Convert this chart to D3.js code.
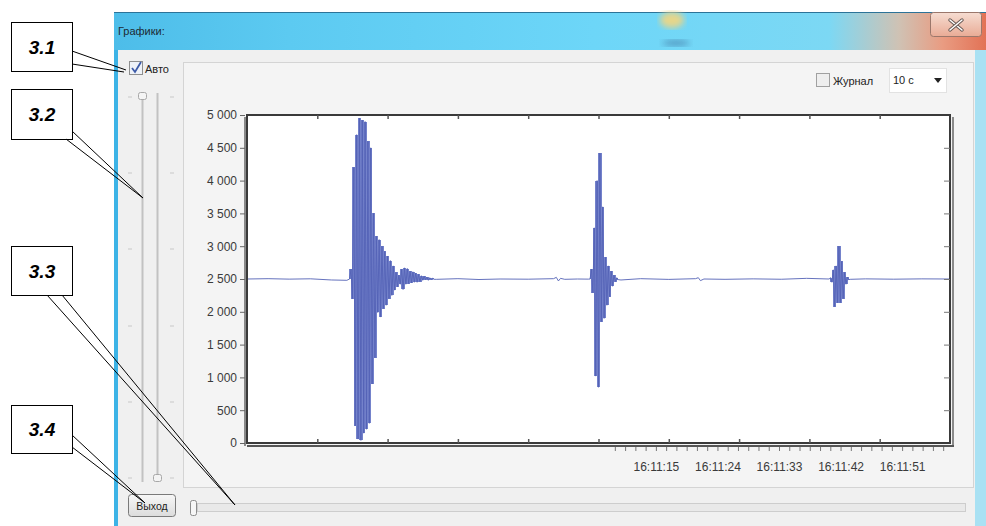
<!DOCTYPE html>
<html>
<head>
<meta charset="utf-8">
<script src="https://cdn.jsdelivr.net/npm/d3@7"></script>
<style>
  body { margin: 0; background: #fff; }
  svg { display: block; }
</style>
</head>
<body>
<div id="chart"></div>
<script>
// --- data ---
const yTicks = [0, 500, 1000, 1500, 2000, 2500, 3000, 3500, 4000, 4500, 5000];
const yTickLabels = ["0", "500", "1 000", "1 500", "2 000", "2 500", "3 000", "3 500", "4 000", "4 500", "5 000"];
const xGridTicks = [10, 20, 30, 40, 50, 60, 70, 80, 90];
const timeLabels = ["16:11:15", "16:11:24", "16:11:33", "16:11:42", "16:11:51"];

// quiet part of the trace (x in plot units 0..100, value in ADC counts)
const quietT = [0, 3, 6, 9, 12, 14.2, 27.0, 30, 33, 36, 40, 43.6, 44.0, 44.3, 44.6, 45.2, 47, 48.6,
  53.2, 56, 60, 63.8, 64.2, 64.5, 65, 68, 72, 76, 79.6, 82.8, 85.8, 88, 92, 96, 100];
const quietV = [2500, 2505, 2498, 2503, 2485, 2480, 2495, 2505, 2492, 2500, 2497, 2505, 2525, 2470, 2510, 2495, 2500, 2498,
  2485, 2505, 2494, 2505, 2520, 2475, 2500, 2495, 2502, 2496, 2510, 2500, 2495, 2502, 2497, 2502, 2500];

// the three bursts, sampled every 0.2 units
const sampleStep = 0.2;
const burst1Start = 14.6;
const burst1 = [2500, 2650, 2200, 4200, 260, 4700, 60, 4950, 40, 4920, 150, 4900, 210, 4600, 300, 4500, 900,
  3500, 1300, 3150, 1990, 3100, 1920, 3000, 2050, 2920, 2100, 2850, 2200, 2780, 2250, 2700, 2330, 2600, 2380,
  2560, 2420, 2650, 2340, 2670, 2420, 2660, 2430, 2620, 2440, 2610, 2450, 2590, 2450, 2570, 2460, 2550, 2480,
  2540, 2490, 2530, 2480, 2520, 2490, 2510, 2495];
const burst2Start = 48.8;
const burst2 = [2500, 2650, 2290, 3280, 1020, 4000, 850, 4420, 1850, 3600, 1900, 2830, 2100, 2700, 2230,
  2620, 2390, 2560, 2460, 2520, 2490];
const burst3Start = 83.0;
const burst3 = [2520, 2450, 2640, 2080, 2700, 2140, 3000, 2140, 2770, 2200, 2600, 2420, 2530, 2490];

// --- layout ---
const W = 986, H = 526;
const plot = { left: 247, right: 950, top: 115, bottom: 443 };

const svg = d3.select('#chart').append('svg')
  .attr('width', W).attr('height', H)
  .style('font-family', '"Liberation Sans", Arial, sans-serif');

const defs = svg.append('defs');
const titleGrad = defs.append('linearGradient').attr('id', 'titleGrad');
[[0, '#4dbde9'], [0.2, '#5ccaf1'], [0.55, '#6dd6f8'], [0.82, '#7cd8f4'], [0.9, '#cfc2b4'], [0.95, '#e99c82'], [1, '#e27256']]
  .forEach(([o, c]) => titleGrad.append('stop').attr('offset', o).attr('stop-color', c));
const btnGrad = defs.append('linearGradient').attr('id', 'btnGrad').attr('x2', 0).attr('y2', 1);
[[0, '#f7f7f7'], [1, '#dcdcdc']].forEach(([o, c]) => btnGrad.append('stop').attr('offset', o).attr('stop-color', c));
const closeGrad = defs.append('linearGradient').attr('id', 'closeGrad').attr('x2', 0).attr('y2', 1);
[[0, '#f6ddd2'], [1, '#e9ab95']].forEach(([o, c]) => closeGrad.append('stop').attr('offset', o).attr('stop-color', c));
defs.append('filter').attr('id', 'soft').append('feGaussianBlur').attr('stdDeviation', 3);

// window chrome
svg.append('rect').attr('x', 114).attr('y', 12).attr('width', W - 114).attr('height', 38).attr('fill', 'url(#titleGrad)');
svg.append('line').attr('x1', 114).attr('x2', W).attr('y1', 12.5).attr('y2', 12.5).attr('stroke', '#2c7398');
svg.append('ellipse').attr('cx', 672).attr('cy', 20).attr('rx', 12).attr('ry', 8).attr('fill', '#e6d68a').attr('filter', 'url(#soft)');
svg.append('ellipse').attr('cx', 676).attr('cy', 43).attr('rx', 14).attr('ry', 3).attr('fill', '#3d6f9c').attr('opacity', 0.6).attr('filter', 'url(#soft)');
svg.append('rect').attr('x', 114).attr('y', 50).attr('width', 4).attr('height', H - 50).attr('fill', '#3cb3e6');
svg.append('rect').attr('x', 975).attr('y', 50).attr('width', 11).attr('height', H - 50).attr('fill', '#a9e1f3');
svg.append('rect').attr('x', 118).attr('y', 50).attr('width', 857).attr('height', H - 50).attr('fill', '#f0f0f0');
svg.append('text').attr('x', 118).attr('y', 35).attr('font-size', 11).attr('fill', '#1d2a33').text('Графики:');

svg.append('rect').attr('x', 930.5).attr('y', 12.5).attr('width', 51).attr('height', 24).attr('rx', 3)
  .attr('fill', 'url(#closeGrad)').attr('stroke', '#9b776b');
const close = svg.append('g').attr('stroke-linecap', 'round');
[[950, 20, 962, 30], [962, 20, 950, 30]].forEach(([a, b, c, d]) => {
  close.append('line').attr('x1', a).attr('y1', b).attr('x2', c).attr('y2', d).attr('stroke', '#6a5a55').attr('stroke-width', 3.5);
  close.append('line').attr('x1', a).attr('y1', b).attr('x2', c).attr('y2', d).attr('stroke', '#fff').attr('stroke-width', 1.5);
});

// group panel around the chart
svg.append('rect').attr('x', 183.5).attr('y', 62.5).attr('width', 790).attr('height', 425)
  .attr('fill', '#f4f4f4').attr('stroke', '#d4d4d4');

// "Авто" checkbox
svg.append('rect').attr('x', 129.5).attr('y', 61.5).attr('width', 13).attr('height', 13)
  .attr('fill', '#eef2f8').attr('stroke', '#8e8f8f');
svg.append('path').attr('d', 'M132,68 L135,72 L141,62').attr('fill', 'none').attr('stroke', '#3d5ba8').attr('stroke-width', 1.8);
svg.append('text').attr('x', 145).attr('y', 73).attr('font-size', 11).attr('fill', '#222').text('Авто');

// vertical range slider
const vs = svg.append('g');
vs.append('line').attr('x1', 142.5).attr('x2', 142.5).attr('y1', 96).attr('y2', 482).attr('stroke', '#c2c2c2').attr('stroke-width', 2);
vs.append('line').attr('x1', 157.5).attr('x2', 157.5).attr('y1', 93).attr('y2', 474).attr('stroke', '#c2c2c2').attr('stroke-width', 2);
[97, 173, 249, 326, 402, 478].forEach(ty => {
  vs.append('line').attr('x1', 128).attr('x2', 132).attr('y1', ty).attr('y2', ty).attr('stroke', '#c8c8c8');
  vs.append('line').attr('x1', 170).attr('x2', 174).attr('y1', ty).attr('y2', ty).attr('stroke', '#c8c8c8');
});
vs.append('rect').attr('x', 138.5).attr('y', 92.5).attr('width', 8).attr('height', 7).attr('rx', 2)
  .attr('fill', '#f4f4f4').attr('stroke', '#a8a8a8');
vs.append('rect').attr('x', 153.5).attr('y', 474.5).attr('width', 8).attr('height', 7).attr('rx', 2)
  .attr('fill', '#f4f4f4').attr('stroke', '#a8a8a8');

// "Журнал" checkbox and period drop-down
svg.append('rect').attr('x', 816.5).attr('y', 73.5).attr('width', 13).attr('height', 13)
  .attr('fill', '#eeeeee').attr('stroke', '#a0a0a0');
svg.append('text').attr('x', 833).attr('y', 85).attr('font-size', 11).attr('fill', '#222').text('Журнал');
svg.append('rect').attr('x', 889.5).attr('y', 68.5).attr('width', 57).attr('height', 24)
  .attr('fill', '#fff').attr('stroke', '#e2e2e2');
svg.append('text').attr('x', 893).attr('y', 84).attr('font-size', 11).attr('fill', '#222').text('10 с');
svg.append('path').attr('d', 'M934,78 L942,78 L938,83 Z').attr('fill', '#222');

// --- chart ---
const x = d3.scaleLinear().domain([0, 100]).range([plot.left, plot.right]);
const y = d3.scaleLinear().domain([0, 5000]).range([plot.bottom, plot.top]);
const t0 = new Date(2000, 0, 1, 16, 11, 8);
const t1 = new Date(2000, 0, 1, 16, 11, 58);
const tx = d3.scaleTime().domain([t0, t1]).range([608, plot.right]);

svg.append('rect').attr('x', plot.left).attr('y', plot.top)
  .attr('width', plot.right - plot.left).attr('height', plot.bottom - plot.top).attr('fill', '#fff');

const bursts = [[burst1Start, burst1], [burst2Start, burst2], [burst3Start, burst3]]
  .map(([start, vals]) => vals.map((v, i) => ({ t: start + i * sampleStep, v })));
const trace = quietT.map((t, i) => ({ t, v: quietV[i] }))
  .concat(...bursts)
  .sort((a, b) => a.t - b.t);

// filled envelope between neighbouring samples
const bars = bursts.flatMap(b => d3.pairs(b));
svg.append('g').attr('shape-rendering', 'crispEdges').selectAll('rect').data(bars).join('rect')
  .attr('x', d => x(d[0].t) - 0.3)
  .attr('width', d => x(d[1].t) - x(d[0].t) + 0.6)
  .attr('y', d => y(Math.max(d[0].v, d[1].v)))
  .attr('height', d => Math.abs(y(d[0].v) - y(d[1].v)))
  .attr('fill', '#7482cb');

svg.append('path').datum(trace)
  .attr('fill', 'none')
  .attr('stroke', '#5362b6')
  .attr('stroke-width', 0.9)
  .attr('d', d3.line().x(d => x(d.t)).y(d => y(d.v)));

// frame with a 3D-ish shadow
svg.append('rect').attr('x', plot.left).attr('y', plot.top)
  .attr('width', plot.right - plot.left).attr('height', plot.bottom - plot.top)
  .attr('fill', 'none').attr('stroke', '#3a3a3a').attr('stroke-width', 2);
svg.append('line').attr('x1', plot.left - 2).attr('x2', plot.left - 2).attr('y1', plot.top + 2).attr('y2', plot.bottom + 3)
  .attr('stroke', '#8a8a8a').attr('stroke-width', 2);
svg.append('line').attr('x1', plot.right + 3).attr('x2', plot.right + 3).attr('y1', plot.top + 2).attr('y2', plot.bottom + 4)
  .attr('stroke', '#8a8a8a').attr('stroke-width', 2);
svg.append('line').attr('x1', plot.left).attr('x2', plot.right + 4).attr('y1', plot.bottom + 3).attr('y2', plot.bottom + 3)
  .attr('stroke', '#555').attr('stroke-width', 2);

// y axis on the left
const yAxis = svg.append('g').attr('transform', `translate(${plot.left - 2},0)`)
  .call(d3.axisLeft(y).tickValues(yTicks).tickSize(5).tickFormat((d, i) => yTickLabels[i]));
yAxis.select('.domain').remove();
yAxis.selectAll('line').attr('stroke', '#666');
yAxis.selectAll('text').attr('font-size', 12).attr('fill', '#3a3a3a').attr('font-family', '"Liberation Sans", Arial, sans-serif');

// inner ticks on the right, top and bottom
const rAxis = svg.append('g').attr('transform', `translate(${plot.right},0)`)
  .call(d3.axisLeft(y).tickValues(yTicks.slice(1, -1)).tickSize(6).tickFormat(''));
rAxis.select('.domain').remove();
rAxis.selectAll('line').attr('stroke', '#777');
const topAxis = svg.append('g').attr('transform', `translate(0,${plot.top})`)
  .call(d3.axisBottom(x).tickValues(xGridTicks).tickSize(4).tickFormat(''));
topAxis.select('.domain').remove();
topAxis.selectAll('line').attr('stroke', '#555').attr('stroke-width', 1.5);
const botAxis = svg.append('g').attr('transform', `translate(0,${plot.bottom})`)
  .call(d3.axisTop(x).tickValues(xGridTicks).tickSize(4).tickFormat(''));
botAxis.select('.domain').remove();
botAxis.selectAll('line').attr('stroke', '#555').attr('stroke-width', 1.5);

// time axis under the chart
const fmt = d3.timeFormat('%H:%M:%S');
const labelSet = new Set(timeLabels);
const timeTicks = d3.range(t0.getTime() + 1000, t1.getTime(), 1500).map(ms => new Date(ms));
const timeAxis = svg.append('g').attr('transform', `translate(0,${plot.bottom + 4})`)
  .call(d3.axisBottom(tx).tickValues(timeTicks).tickSize(4).tickPadding(11)
    .tickFormat(d => labelSet.has(fmt(d)) ? fmt(d) : ''));
timeAxis.select('.domain').remove();
timeAxis.selectAll('line').attr('stroke', '#777');
timeAxis.selectAll('text').attr('font-size', 12).attr('fill', '#3a3a3a').attr('font-family', '"Liberation Sans", Arial, sans-serif');

// bottom strip: exit button and horizontal slider
svg.append('rect').attr('x', 128.5).attr('y', 494.5).attr('width', 47).attr('height', 22).attr('rx', 3)
  .attr('fill', 'url(#btnGrad)').attr('stroke', '#7a7a7a');
svg.append('text').attr('x', 152).attr('y', 509.5).attr('text-anchor', 'middle').attr('font-size', 10.5).attr('fill', '#222').text('Выход');
svg.append('rect').attr('x', 197.5).attr('y', 503.5).attr('width', 768).attr('height', 8)
  .attr('fill', '#e9e9e9').attr('stroke', '#cdcdcd');
svg.append('rect').attr('x', 190.5).attr('y', 500.5).attr('width', 6).attr('height', 15).attr('rx', 2)
  .attr('fill', '#f6f6f6').attr('stroke', '#8c8c8c');

// --- callout boxes ---
const callouts = [
  { label: '3.1', y0: 22, y1: 71, lines: [[72, 51, 126, 70], [72, 64, 124, 72]] },
  { label: '3.2', y0: 89, y1: 139, lines: [[72, 131, 143, 198], [66, 139, 143, 198]] },
  { label: '3.3', y0: 246, y1: 295, lines: [[47, 295, 235, 505], [62, 295, 235, 505]] },
  { label: '3.4', y0: 405, y1: 453, lines: [[72, 435, 145, 503], [72, 447, 145, 503]] }
];
const cg = svg.append('g').selectAll('g').data(callouts).join('g');
cg.append('rect').attr('x', 11.5).attr('y', d => d.y0 + 0.5).attr('width', 61).attr('height', d => d.y1 - d.y0)
  .attr('fill', '#fff').attr('stroke', '#000');
cg.append('text').attr('x', 42).attr('y', d => (d.y0 + d.y1) / 2 + 7)
  .attr('text-anchor', 'middle').attr('font-size', 19).attr('font-weight', 'bold').attr('font-style', 'italic')
  .attr('fill', '#000').text(d => d.label);
cg.selectAll('line').data(d => d.lines).join('line')
  .attr('x1', d => d[0]).attr('y1', d => d[1]).attr('x2', d => d[2]).attr('y2', d => d[3])
  .attr('stroke', '#000').attr('stroke-width', 1);
</script>
</body>
</html>
